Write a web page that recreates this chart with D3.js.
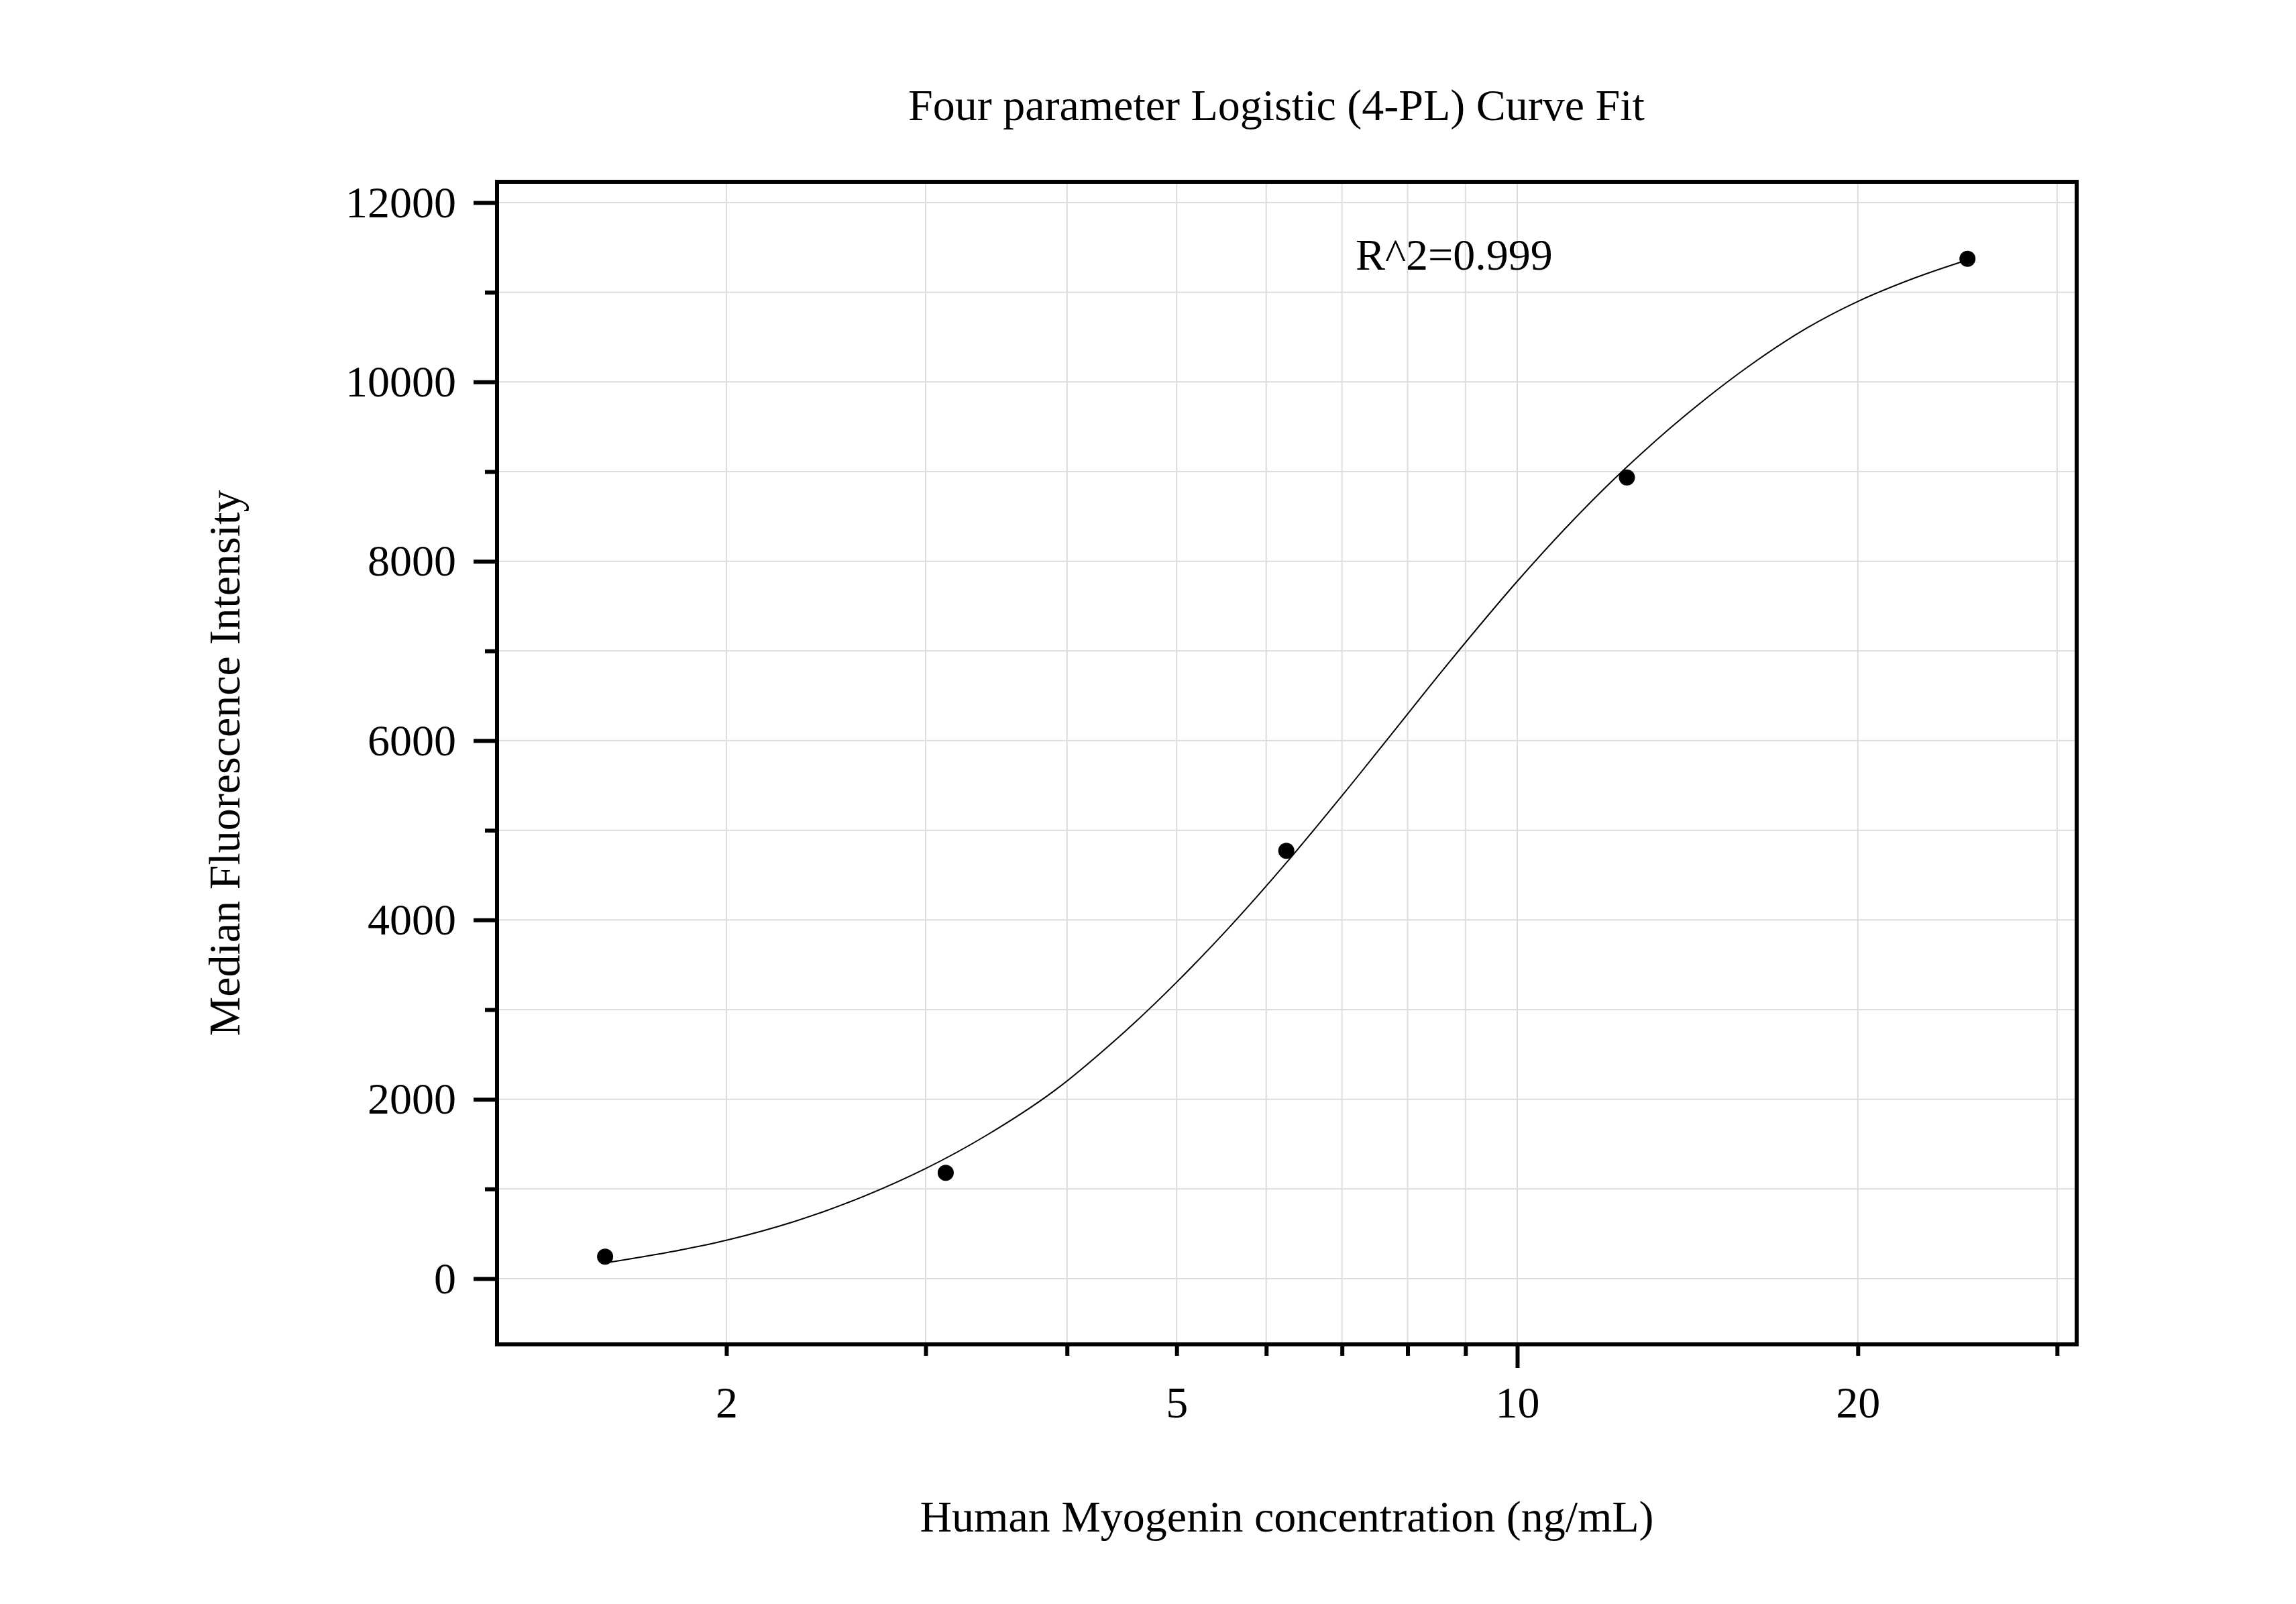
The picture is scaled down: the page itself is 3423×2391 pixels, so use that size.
<!DOCTYPE html>
<html>
<head>
<meta charset="utf-8">
<script src="https://cdn.jsdelivr.net/npm/d3@7/dist/d3.min.js"></script>
<style>
  html, body { margin: 0; padding: 0; background: #ffffff; }
  svg { display: block; }
  text { font-family: "Liberation Serif", "Times New Roman", serif; fill: #000; }
</style>
</head>
<body>
<svg id="chart" width="3423" height="2391"></svg>
<script>
// ---- data ----
const concentrations = [1.5625, 3.125, 6.25, 12.5, 25];
const mfiValues = [245, 1180, 4771, 8935, 11374];

// fitted curve
const curveX = [1.5625, 1.8, 2.0, 2.3, 2.6, 3.0, 3.4, 3.9, 4.5, 5.0, 5.6, 6.25, 7.0, 7.8, 8.7, 10, 11.2, 12.5, 14, 16, 18, 20, 22.5, 25];
const curveY = [175, 307, 428, 640, 880, 1228, 1603, 2098, 2756, 3306, 3955, 4637, 5385, 6123, 6869, 7777, 8456, 9052, 9603, 10171, 10596, 10898, 11164, 11361];

const xTickValues = [2, 3, 4, 5, 6, 7, 8, 9, 10, 20, 30];
const xMajorTicks = [10];
const xTickLabels = [2, 5, 10, 20];
const yMajorTicks = [0, 2000, 4000, 6000, 8000, 10000, 12000];
const yMinorTicks = [1000, 3000, 5000, 7000, 9000, 11000];

const titleText = "Four parameter Logistic (4-PL) Curve Fit";
const xLabelText = "Human Myogenin concentration (ng/mL)";
const yLabelText = "Median Fluorescence Intensity";
const r2Text = "R^2=0.999";

// ---- layout ----
const plotLeft = 741, plotTop = 271, plotRight = 3096, plotBottom = 2004;
const svg = d3.select("#chart");

const x = d3.scaleLog().domain([1.254, 31.22]).range([plotLeft, plotRight]);
const y = d3.scaleLinear().domain([-733, 12232]).range([plotBottom, plotTop]);

const gridColor = "#dddddd";

// grid
const grid = svg.append("g");
grid.selectAll("line.gx").data(xTickValues).join("line")
  .attr("class", "gx")
  .attr("x1", d => x(d)).attr("x2", d => x(d))
  .attr("y1", plotTop).attr("y2", plotBottom)
  .attr("stroke", gridColor).attr("stroke-width", 2);
grid.selectAll("line.gy").data(yMajorTicks.concat(yMinorTicks)).join("line")
  .attr("class", "gy")
  .attr("x1", plotLeft).attr("x2", plotRight)
  .attr("y1", d => y(d)).attr("y2", d => y(d))
  .attr("stroke", gridColor).attr("stroke-width", 2);

// curve
const line = d3.line()
  .x((d, i) => x(curveX[i]))
  .y(d => y(d))
  .curve(d3.curveCatmullRom.alpha(0.5));
svg.append("path")
  .datum(curveY)
  .attr("d", line)
  .attr("fill", "none")
  .attr("stroke", "#000")
  .attr("stroke-width", 2);

// points
svg.append("g").selectAll("circle").data(mfiValues).join("circle")
  .attr("cx", (d, i) => x(concentrations[i]))
  .attr("cy", d => y(d))
  .attr("r", 12)
  .attr("fill", "#000");

// frame
svg.append("rect")
  .attr("x", plotLeft).attr("y", plotTop)
  .attr("width", plotRight - plotLeft).attr("height", plotBottom - plotTop)
  .attr("fill", "none").attr("stroke", "#000").attr("stroke-width", 6);

function styleAxis(g) {
  g.select(".domain").remove();
  g.selectAll(".tick line").attr("stroke", "#000").attr("stroke-width", 6);
  g.selectAll(".tick text")
    .style("font-family", '"Liberation Serif", "Times New Roman", serif')
    .style("font-size", "66px").attr("fill", "#000");
}

// y axis: major with labels
svg.append("g").attr("transform", `translate(${plotLeft},0)`)
  .call(d3.axisLeft(y).tickValues(yMajorTicks).tickSize(35).tickPadding(26).tickFormat(d3.format("d")))
  .call(styleAxis);
// y minor
svg.append("g").attr("transform", `translate(${plotLeft},0)`)
  .call(d3.axisLeft(y).tickValues(yMinorTicks).tickSize(18).tickFormat(""))
  .call(styleAxis);

// x minor ticks
svg.append("g").attr("transform", `translate(0,${plotBottom})`)
  .call(d3.axisBottom(x).tickValues(xTickValues.filter(v => !xMajorTicks.includes(v))).tickSize(17).tickFormat(""))
  .call(styleAxis);
// x major ticks
svg.append("g").attr("transform", `translate(0,${plotBottom})`)
  .call(d3.axisBottom(x).tickValues(xMajorTicks).tickSize(35).tickFormat(""))
  .call(styleAxis);
// x labels
svg.append("g").attr("transform", `translate(0,${plotBottom})`)
  .call(d3.axisBottom(x).tickValues(xTickLabels).tickSize(0).tickPadding(62).tickFormat(d3.format("d")))
  .call(styleAxis);

// title
svg.append("text")
  .attr("x", 1903).attr("y", 179)
  .attr("text-anchor", "middle")
  .style("font-size", "66px")
  .text(titleText);

// x label
svg.append("text")
  .attr("x", (plotLeft + plotRight) / 2).attr("y", 2283)
  .attr("text-anchor", "middle")
  .style("font-size", "66px")
  .text(xLabelText);

// y label
svg.append("text")
  .attr("transform", `translate(357,${(plotTop + plotBottom) / 2}) rotate(-90)`)
  .attr("text-anchor", "middle")
  .style("font-size", "66px")
  .text(yLabelText);

// R^2 annotation
svg.append("text")
  .attr("x", 2021).attr("y", 402)
  .style("font-size", "66px")
  .text(r2Text);
</script>
</body>
</html>
